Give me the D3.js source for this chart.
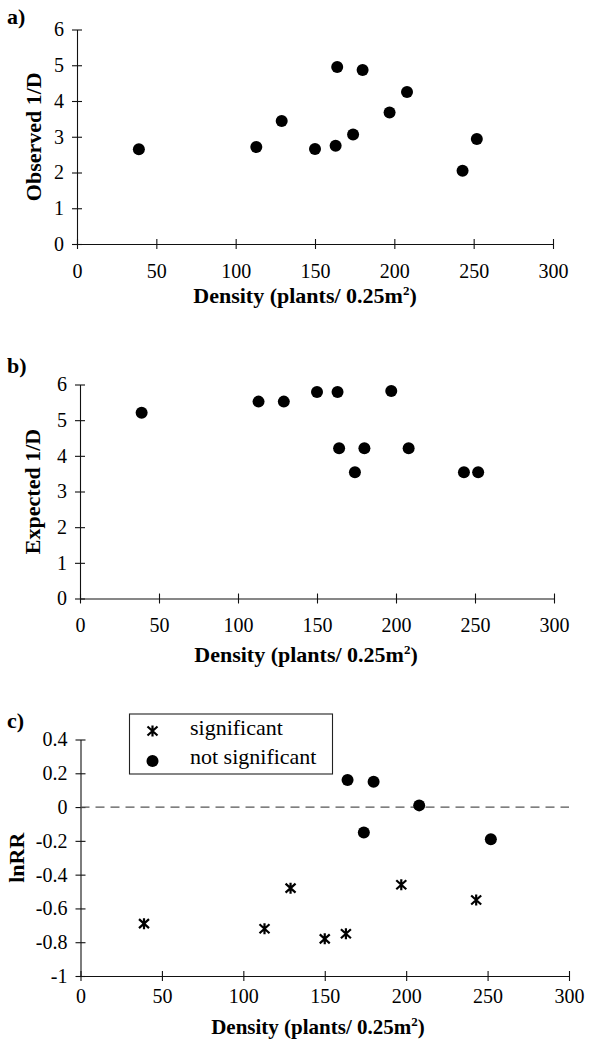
<!DOCTYPE html>
<html>
<head>
<meta charset="utf-8">
<script src="https://cdn.jsdelivr.net/npm/d3@7"></script>
<style>
  body { margin: 0; background: #fff; }
  svg text { font-family: "Liberation Serif", "Times New Roman", Times, serif; fill: #000; }
</style>
</head>
<body>
<div id="chart"></div>
<script>
// plot density (plants / 0.25 m2) for the 12 plots
const density = [39, 113, 129, 150, 163, 164, 174, 180, 197, 208, 243, 252];
const observed = [2.65, 2.71, 3.44, 2.66, 2.75, 4.95, 3.06, 4.87, 3.68, 4.25, 2.05, 2.94];
const expected = [5.21, 5.52, 5.52, 5.79, 5.79, 4.21, 3.54, 4.21, 5.82, 4.21, 3.54, 3.54];
const lnRR = [-0.69, -0.72, -0.48, -0.78, -0.75, 0.16, -0.15, 0.15, -0.46, 0.01, -0.55, -0.19];
const significant = [true, true, true, true, true, false, false, false, true, false, true, false];

const xTicks = [0, 50, 100, 150, 200, 250, 300];
const yTicksAB = [0, 1, 2, 3, 4, 5, 6];
const yTicksC = [0.4, 0.2, 0, -0.2, -0.4, -0.6, -0.8, -1];
const legendLabels = ["significant", "not significant"];

const W = 589, H = 1046;
const FONT = '"Liberation Serif", "Times New Roman", Times, serif';

const svg = d3.select("#chart")
  .append("svg")
  .attr("width", W)
  .attr("height", H);

// asterisk like the old plotting symbol: an X with a vertical bar
const starPath = "M0,-5.5L0,5.5M-5,-4.5L5,4.5M-5,4.5L5,-4.5";

function star(sel) {
  sel.attr("d", starPath)
    .attr("fill", "none")
    .attr("stroke", "#000")
    .attr("stroke-width", 2.2);
}

// layout of the three panels
const panels = [
  { tag: "a)", tagY: 24, ylab: "Observed 1/D", ylabX: 41, values: observed, yDomain: [0, 6], yTicks: yTicksAB,
    left: 77, right: 553, top: 29.5, bottom: 244, xPad: 15, titleY: 303, titleX: 305, titleSize: 22 },
  { tag: "b)", tagY: 373, ylab: "Expected 1/D", ylabX: 40, values: expected, yDomain: [0, 6], yTicks: yTicksAB,
    left: 80, right: 554, top: 384.5, bottom: 598.5, xPad: 14, titleY: 662, titleX: 306, titleSize: 22 },
  { tag: "c)", tagY: 728, ylab: "lnRR", ylabX: 24, values: lnRR, yDomain: [-1, 0.4], yTicks: yTicksC,
    left: 80.5, right: 569, top: 739.5, bottom: 976, xPad: 8, titleY: 1034, titleX: 318, titleSize: 21 }
];

panels.forEach((p, i) => {
  const x = d3.scaleLinear().domain([0, 300]).range([p.left, p.right]);
  const y = d3.scaleLinear().domain(p.yDomain).range([p.bottom, p.top]);
  const g = svg.append("g");

  // x axis, ticks cross the line
  const gx = g.append("g")
    .attr("transform", `translate(0,${p.bottom})`)
    .call(d3.axisBottom(x).tickValues(xTicks).tickSize(5).tickSizeOuter(0).tickPadding(p.xPad));
  gx.selectAll(".tick line").attr("y1", -5);

  // y axis
  const gy = g.append("g")
    .attr("transform", `translate(${p.left},0)`)
    .call(d3.axisLeft(y).tickValues(p.yTicks).tickSize(5).tickSizeOuter(0).tickPadding(8)
      .tickFormat(d => String(+d.toFixed(1))));
  gy.selectAll(".tick line").attr("x1", 5);

  [gx, gy].forEach(a => {
    a.attr("font-family", FONT).attr("font-size", 20);
    a.selectAll("text").style("font-family", FONT).style("font-size", "20px");
    a.selectAll("path, line").attr("stroke", "#111").attr("stroke-width", 1.1);
  });

  // zero line in panel c
  if (i === 2) {
    g.append("line")
      .attr("x1", x(0)).attr("x2", x(300))
      .attr("y1", y(0)).attr("y2", y(0))
      .attr("stroke", "#555")
      .attr("stroke-width", 1.2)
      .attr("stroke-dasharray", "9,6");
  }

  const pts = density.map((d, k) => ({ x: d, y: p.values[k], sig: i === 2 && significant[k] }));

  g.selectAll("circle.pt")
    .data(pts.filter(d => !d.sig))
    .join("circle")
    .attr("class", "pt")
    .attr("cx", d => x(d.x))
    .attr("cy", d => y(d.y))
    .attr("r", 6)
    .attr("fill", "#000");

  g.selectAll("path.star")
    .data(pts.filter(d => d.sig))
    .join("path")
    .attr("class", "star")
    .attr("transform", d => `translate(${x(d.x)},${y(d.y)})`)
    .call(star);

  // panel tag
  g.append("text")
    .attr("x", 7)
    .attr("y", p.tagY)
    .style("font-family", FONT)
    .style("font-size", "22px")
    .style("font-weight", "bold")
    .text(p.tag);

  // y title
  g.append("text")
    .attr("transform", `translate(${p.ylabX},${(p.top + p.bottom) / 2}) rotate(-90)`)
    .attr("text-anchor", "middle")
    .style("font-family", FONT)
    .style("font-size", "22px")
    .style("font-weight", "bold")
    .text(p.ylab);

  // x title with superscript
  const t = g.append("text")
    .attr("x", p.titleX)
    .attr("y", p.titleY)
    .attr("text-anchor", "middle")
    .style("font-family", FONT)
    .style("font-size", p.titleSize + "px")
    .style("font-weight", "bold");
  t.append("tspan").text("Density (plants/ 0.25m");
  t.append("tspan").attr("dy", -8).style("font-size", "13px").text("2");
  t.append("tspan").attr("dy", 8).text(")");

  // legend
  if (i === 2) {
    const lg = g.append("g");
    lg.append("rect")
      .attr("x", 129.5).attr("y", 714)
      .attr("width", 203).attr("height", 60)
      .attr("fill", "#fff")
      .attr("stroke", "#222")
      .attr("stroke-width", 1.1);
    lg.append("path")
      .attr("transform", "translate(152.5,731)")
      .call(star);
    lg.append("circle")
      .attr("cx", 152.5).attr("cy", 761).attr("r", 6).attr("fill", "#000");
    legendLabels.forEach((l, k) => {
      lg.append("text")
        .attr("x", 190)
        .attr("y", 735 + k * 29)
        .style("font-family", FONT)
        .style("font-size", "22px")
        .text(l);
    });
  }
});
</script>
</body>
</html>
